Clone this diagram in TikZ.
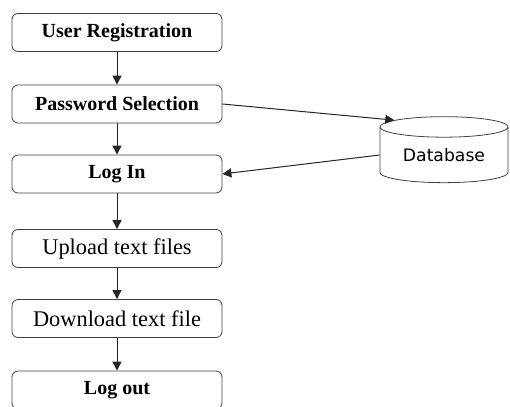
\documentclass[tikz,border=0pt]{standalone}
\usepackage{fontspec}
\setmainfont{Liberation Serif}
\newfontfamily\dbfont{DejaVu Sans}
\usetikzlibrary{arrows.meta,shapes.geometric}
\tikzset{
  stepbox/.style={draw=black!75, rounded corners=3pt, minimum width=105pt,
    minimum height=19pt, inner sep=0pt, font=\fontsize{11.2}{13}\selectfont},
  boldstep/.style={stepbox, font=\bfseries\fontsize{10}{12}\selectfont},
  dbnode/.style={cylinder, shape border rotate=90, draw=black!75, aspect=0.25,
    minimum width=64pt, minimum height=33pt, inner sep=0pt,
    font=\dbfont\fontsize{8.6}{10}\selectfont},
  flow/.style={-{Triangle[length=4.5pt,width=4.5pt]}, draw=black!85, line width=0.5pt}
}
\begin{document}
\begin{tikzpicture}[x=0.5pt,y=-0.5pt]
  \useasboundingbox (0,0) rectangle (510,407);
  \draw
    (117,32.5) node[boldstep] (reg){User Registration}
    (117,104) node[boldstep] (pwd){Password Selection}
    (117,174) node[boldstep] (login){Log In}
    (117,248.5) node[stepbox] (upload){Upload text files}
    (117,318.5) node[stepbox] (download){Download text file}
    (117,390) node[boldstep] (logout){Log out}
    (444,155) node[dbnode] (db){Database};
  \begin{scope}[flow]
    \draw (reg) to (pwd);
    \draw (pwd) to (login);
    \draw (login) to (upload);
    \draw (upload) to (download);
    \draw (download) to (logout);
    \draw (pwd.east) to (db.145);
    \draw (db.west) to (login.east);
  \end{scope}
\end{tikzpicture}
\end{document}
